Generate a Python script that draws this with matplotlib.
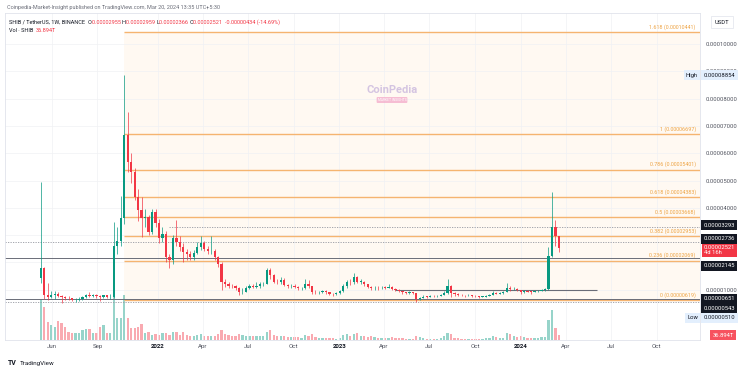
import datetime as dt
import numpy as np
import matplotlib.pyplot as plt
import matplotlib.dates as mdates
from matplotlib.patches import Rectangle

plt.rcParams['font.family'] = ['Roboto', 'DejaVu Sans']

# weekly SHIB/USDT candles, prices in units of 0.00001 USDT
start = dt.date(2021, 5, 10)
first_open = 1.43
close = [1.79, 0.80, 0.74, 0.80, 0.86, 0.78, 0.72, 0.70, 0.68, 0.62,
         0.63, 0.67, 0.73, 0.82, 0.76, 0.80, 0.76, 0.74, 0.80, 0.72,
         0.73, 2.60, 2.80, 3.63, 6.67, 5.68, 5.31, 4.40, 3.93, 3.63,
         3.66, 3.11, 3.85, 3.44, 2.89, 3.05, 2.20, 2.09, 2.89, 2.75,
         2.56, 2.38, 2.30, 2.20, 2.35, 2.55, 2.72, 2.50, 2.40, 2.42,
         2.20, 1.95, 1.28, 1.22, 1.15, 1.12, 1.05, 0.90, 0.92, 1.08,
         1.12, 1.10, 1.14, 1.20, 1.22, 1.72, 1.54, 1.30, 1.28, 1.36,
         1.18, 1.12, 1.14, 1.10, 1.05, 1.06, 1.22, 1.12, 0.92, 0.91,
         0.92, 0.95, 0.90, 0.86, 0.84, 0.87, 0.95, 1.12, 1.28, 1.27,
         1.45, 1.30, 1.30, 1.20, 1.10, 1.05, 1.08, 1.06, 1.08, 1.07,
         1.10, 1.04, 1.00, 0.95, 0.90, 0.89, 0.90, 0.87, 0.67, 0.70,
         0.75, 0.74, 0.77, 0.76, 0.78, 0.82, 0.88, 1.14, 0.88, 0.85,
         0.82, 0.80, 0.79, 0.80, 0.78, 0.76, 0.74, 0.75, 0.78, 0.82,
         0.88, 0.86, 0.88, 0.92, 1.08, 1.02, 1.04, 0.98, 0.92, 0.96,
         0.93, 0.92, 0.94, 0.96, 1.00, 1.04, 2.25, 3.293, 2.955, 2.521]
high = [4.95, 1.85, 1.25, 0.95, 0.95, 0.92, 0.82, 0.78, 0.76, 0.70,
        0.68, 0.72, 0.76, 0.86, 0.90, 0.84, 0.86, 0.80, 0.82, 0.82,
        0.84, 3.48, 3.30, 4.45, 8.854, 7.50, 6.00, 5.46, 4.70, 4.40,
        3.95, 3.75, 3.95, 3.95, 3.60, 3.30, 3.15, 2.30, 3.00, 3.55,
        2.95, 2.70, 2.50, 2.40, 2.45, 2.75, 2.95, 2.80, 2.60, 2.95,
        2.50, 2.25, 2.00, 1.40, 1.30, 1.22, 1.18, 1.10, 1.05, 1.15,
        1.20, 1.20, 1.30, 1.28, 1.30, 1.80, 1.78, 1.58, 1.38, 1.45,
        1.42, 1.22, 1.20, 1.20, 1.14, 1.10, 1.40, 1.35, 1.15, 0.98,
        0.96, 1.00, 0.98, 0.93, 0.88, 0.90, 0.98, 1.20, 1.35, 1.38,
        1.61, 1.50, 1.38, 1.32, 1.22, 1.12, 1.15, 1.12, 1.12, 1.12,
        1.20, 1.12, 1.06, 1.02, 0.97, 0.93, 0.94, 0.92, 0.88, 0.75,
        0.80, 0.78, 0.80, 0.80, 0.82, 0.86, 0.94, 1.40, 1.16, 0.90,
        0.88, 0.84, 0.82, 0.83, 0.82, 0.80, 0.78, 0.78, 0.82, 0.86,
        0.94, 0.92, 0.92, 0.95, 1.25, 1.12, 1.10, 1.06, 1.00, 1.00,
        0.98, 0.95, 0.97, 0.99, 1.04, 1.08, 2.55, 4.57, 3.55, 2.959]
low = [1.25, 0.66, 0.62, 0.70, 0.66, 0.72, 0.51, 0.62, 0.64, 0.58,
       0.55, 0.60, 0.64, 0.70, 0.72, 0.72, 0.70, 0.60, 0.70, 0.68,
       0.66, 0.70, 2.30, 2.60, 3.40, 5.30, 4.90, 4.30, 3.50, 2.93,
       3.30, 3.00, 3.05, 3.30, 2.70, 2.75, 2.00, 1.80, 1.95, 2.60,
       2.40, 2.00, 2.10, 2.10, 2.10, 2.30, 2.45, 2.40, 2.30, 2.30,
       2.10, 1.85, 1.00, 1.10, 1.08, 1.05, 0.98, 0.80, 0.86, 0.90,
       1.02, 1.05, 1.05, 1.08, 1.12, 1.20, 1.40, 1.25, 1.20, 1.22,
       1.12, 1.05, 1.06, 1.05, 1.00, 1.00, 1.04, 1.05, 0.85, 0.86,
       0.86, 0.88, 0.86, 0.82, 0.78, 0.80, 0.84, 0.92, 1.08, 1.18,
       1.22, 1.25, 1.22, 1.15, 1.05, 0.98, 0.98, 1.00, 1.02, 1.02,
       1.05, 1.00, 0.96, 0.90, 0.85, 0.86, 0.86, 0.84, 0.543, 0.62,
       0.68, 0.70, 0.72, 0.73, 0.74, 0.76, 0.80, 0.86, 0.72, 0.78,
       0.78, 0.76, 0.74, 0.76, 0.75, 0.73, 0.71, 0.72, 0.74, 0.77,
       0.80, 0.83, 0.84, 0.86, 0.90, 0.96, 0.98, 0.95, 0.85, 0.88,
       0.90, 0.86, 0.90, 0.92, 0.94, 0.96, 1.00, 2.20, 2.60, 2.366]
# weekly volume, trillion SHIB
volume = [296, 244, 133, 111, 96, 140, 126, 96, 59, 52,
          52, 52, 74, 81, 81, 52, 52, 96, 111, 52,
          52, 318, 163, 163, 333, 163, 89, 89, 96, 118,
          52, 59, 37, 44, 37, 52, 52, 37, 60, 59,
          37, 59, 37, 30, 30, 37, 44, 30, 30, 30,
          30, 44, 74, 44, 37, 30, 30, 44, 37, 30,
          26, 26, 26, 26, 26, 59, 74, 37, 26, 30,
          30, 22, 22, 22, 22, 18, 37, 30, 44, 22,
          18, 18, 15, 18, 15, 11, 18, 37, 44, 30,
          44, 52, 30, 26, 22, 30, 22, 18, 15, 15,
          18, 22, 15, 18, 18, 11, 11, 11, 30, 22,
          15, 11, 11, 11, 11, 18, 30, 52, 44, 18,
          15, 11, 11, 11, 11, 11, 11, 11, 15, 18,
          30, 22, 18, 18, 52, 44, 26, 22, 26, 22,
          15, 15, 15, 15, 22, 22, 148, 222, 89, 36.894]

# fibonacci retracement drawn from the Oct 2021 peak week
fib_ratios = ['0', '0.236', '0.382', '0.5', '0.618', '0.786', '1', '1.618']
fib_prices = [0.619, 2.069, 2.953, 3.668, 4.383, 5.401, 6.697, 10.441]
fib_start = dt.date(2021, 10, 25)

# horizontal lines drawn on the chart
solid_levels = [2.145, 0.651]
dotted_levels = [2.736, 0.543]
dotted_from_2022 = 3.293
box_line = (1.0, dt.date(2023, 4, 24), dt.date(2024, 6, 3))

month_ticks = [dt.date(2021, 6, 1), dt.date(2021, 9, 1), dt.date(2022, 1, 1),
               dt.date(2022, 4, 1), dt.date(2022, 7, 1), dt.date(2022, 10, 1),
               dt.date(2023, 1, 1), dt.date(2023, 4, 1), dt.date(2023, 7, 1),
               dt.date(2023, 10, 1), dt.date(2024, 1, 1), dt.date(2024, 4, 1),
               dt.date(2024, 7, 1), dt.date(2024, 10, 1)]
month_labels = ['Jun', 'Sep', '2022', 'Apr', 'Jul', 'Oct', '2023', 'Apr',
                'Jul', 'Oct', '2024', 'Apr', 'Jul', 'Oct']
price_ticks = [1, 2, 3, 4, 5, 6, 7, 8, 9, 10]
covered_ticks = [2, 3]  # hidden behind the price tags on the scale

UP = '#089981'
DOWN = '#f23645'

dates = [start + dt.timedelta(weeks=i) for i in range(len(close))]
x = mdates.date2num(dates)
o = np.array([first_open] + close[:-1])
c = np.array(close)
h = np.array(high)
lo = np.array(low)
up = c >= o
cols = np.where(up, UP, DOWN)

W, H = 750, 372
fig = plt.figure(figsize=(7.5, 3.72), dpi=100)
ax = fig.add_axes([5 / W, (H - 340) / H, 695 / W, 327 / H])
vax = ax.twinx()
ax.set_zorder(vax.get_zorder() + 1)
ax.patch.set_visible(False)

# volume
vax.bar(x, volume, width=4.6, color=cols, alpha=0.42, linewidth=0)
vax.set_ylim(0, 2420)
vax.set_yticks([])
for s in vax.spines.values():
    s.set_visible(False)

# fib zone
x_left = mdates.date2num(start - dt.timedelta(days=72))
x_right = mdates.date2num(start + dt.timedelta(days=1327))
fx = mdates.date2num(fib_start)
ax.add_patch(Rectangle((fx, fib_prices[0]), x_right - fx, fib_prices[-1] - fib_prices[0],
                       facecolor='#ff9800', alpha=0.05, linewidth=0, zorder=0))
for r, p in zip(fib_ratios, fib_prices):
    ax.hlines(p, fx, x_right, color='#f5b470', lw=1.0, zorder=1)
    ax.annotate(f'{r} ({p * 1e-5:.8f})', (x_right, p), xytext=(-3, 1.5),
                textcoords='offset points', ha='right', va='bottom',
                fontsize=3.9, color='#eea445')

# gray lines
for p in solid_levels:
    ax.axhline(p, color='#6a6d78', lw=0.7, zorder=1.2)
for p in dotted_levels:
    ax.axhline(p, color='#9598a1', lw=0.6, ls=(0, (1.5, 1.5)), zorder=1.2)
ax.hlines(dotted_from_2022, mdates.date2num(dt.date(2022, 1, 24)), x_right,
          color='#9598a1', lw=0.6, ls=(0, (1.5, 1.5)), zorder=1.2)
ax.hlines(box_line[0], mdates.date2num(box_line[1]), mdates.date2num(box_line[2]),
          color='#6a6d78', lw=0.8, zorder=1.2)

# candles
ax.vlines(x, lo, h, colors=cols, lw=0.5, zorder=3)
ax.bar(x, np.maximum(np.abs(c - o), 0.02), bottom=np.minimum(o, c), width=4.6,
       color=cols, linewidth=0, zorder=4)

ax.set_xlim(x_left, x_right)
ax.set_ylim(-0.842, 11.136)

# axes styling
ax.yaxis.tick_right()
ax.set_yticks(price_ticks)
ax.set_yticklabels(['' if v in covered_ticks else f'{v * 1e-5:.8f}' for v in price_ticks])
ax.tick_params(axis='y', length=0, pad=4, labelsize=4.2, labelcolor='#50535e')
ax.set_xticks(mdates.date2num(month_ticks))
ax.set_xticklabels(month_labels)
ax.tick_params(axis='x', length=0, pad=3, labelsize=4.4, labelcolor='#50535e')
for lab in ax.get_xticklabels():
    if lab.get_text().isdigit():
        lab.set_fontweight('bold')
        lab.set_color('#131722')
ax.grid(color='#f0f1f4', lw=0.5)
ax.set_axisbelow(True)
for s in ax.spines.values():
    s.set_color('#e0e3eb')
    s.set_linewidth(0.6)

# price labels on the right scale
ytr = ax.get_yaxis_transform()


def price_box(p, text, fc, tc, dy=0, pad=0.4):
    ax.annotate(text, (1, p), xycoords=ytr, xytext=(2.6, dy),
                textcoords='offset points', ha='left', va='center',
                fontsize=4.2, color=tc, zorder=10, annotation_clip=False,
                linespacing=1.0,
                bbox=dict(boxstyle=f'square,pad={pad}', fc=fc, ec='none'))


def side_tag(p, text, dy=0):
    ax.annotate(text, (1, p), xycoords=ytr, xytext=(-1.5, dy),
                textcoords='offset points', ha='right', va='center', fontsize=4.2,
                color='#131722', bbox=dict(boxstyle='square,pad=0.4', fc='#e3effd', ec='none'))


price_box(8.854, '0.00008854', '#e3effd', '#131722')
side_tag(8.854, 'High')
price_box(3.293, '0.00003293', '#131722', 'white', dy=1.5)
price_box(2.736, '0.00002736', '#131722', 'white', dy=2.4)
price_box(c[-1], f'{c[-1] * 1e-5:.8f}\n4d 16h', DOWN, 'white', dy=-1.6, pad=0.3)
price_box(2.145, '0.00002145', '#131722', 'white', dy=-5.2)
price_box(0.651, '0.00000651', '#131722', 'white', dy=0.3)
price_box(0.543, '0.00000543', '#131722', 'white', dy=-4.2)
price_box(0.51, '0.00000510', '#e3effd', '#131722', dy=-10.5)
side_tag(0.51, 'Low', dy=-10.5)
vtr = vax.get_yaxis_transform()
vax.annotate(f'{volume[-1]:.3f}T', (1, volume[-1]), xycoords=vtr, xytext=(9, 0),
             textcoords='offset points', ha='left', va='center', fontsize=4.2,
             color='white', zorder=10, annotation_clip=False,
             bbox=dict(boxstyle='square,pad=0.4', fc='#f7525f', ec='none'))
fig.text(722 / W, 1 - 22 / H, 'USDT', fontsize=4.2, color='#131722', ha='center', va='center',
         bbox=dict(boxstyle='square,pad=0.6', fc='white', ec='#e0e3eb', lw=0.5))

# header
renderer = fig.canvas.get_renderer()


def chain(px, py, parts, size):
    for s, col in parts:
        t = fig.text(px / W, 1 - py / H, s, color=col, fontsize=size, ha='left', va='center')
        px += t.get_window_extent(renderer=renderer).width


dark = '#131722'
chain(7, 7, [('Coinpedia-Market-Insight published on TradingView.com, Mar 20, 2024 13:35 UTC+5:30', '#6a6d78')], 4.0)
chain(9, 22, [('SHIB / TetherUS, 1W, BINANCE  ', dark),
              ('O', dark), (f'{o[-1] * 1e-5:.8f} ', DOWN),
              ('H', dark), (f'{h[-1] * 1e-5:.8f} ', DOWN),
              ('L', dark), (f'{lo[-1] * 1e-5:.8f} ', DOWN),
              ('C', dark), (f'{c[-1] * 1e-5:.8f}  ', DOWN),
              (f'{(c[-1] - o[-1]) * 1e-5:.8f} ({(c[-1] - o[-1]) / o[-1] * 100:.2f}%)', DOWN)], 4.0)
chain(9, 30, [('Vol · SHIB  ', dark), (f'{volume[-1]:.3f}T', DOWN)], 4.0)

# watermark
fig.text(392 / W, 1 - 90 / H, 'CoinPedia', fontsize=8, fontweight='bold', color='#c6b3dc',
         ha='center', va='center', alpha=0.75)
fig.text(392 / W, 1 - 100 / H, 'MARKET INSIGHTS', fontsize=2.4, color='white',
         ha='center', va='center',
         bbox=dict(boxstyle='round,pad=0.3', fc='#f3a9c9', ec='none', alpha=0.75))

# footer logo
fig.text(8 / W, 1 - 363 / H, 'TV', fontsize=5, fontweight='bold', color=dark, va='center')
fig.text(20 / W, 1 - 363 / H, 'TradingView', fontsize=4.5, color=dark, va='center')

fig.savefig('out.png', dpi=100)
